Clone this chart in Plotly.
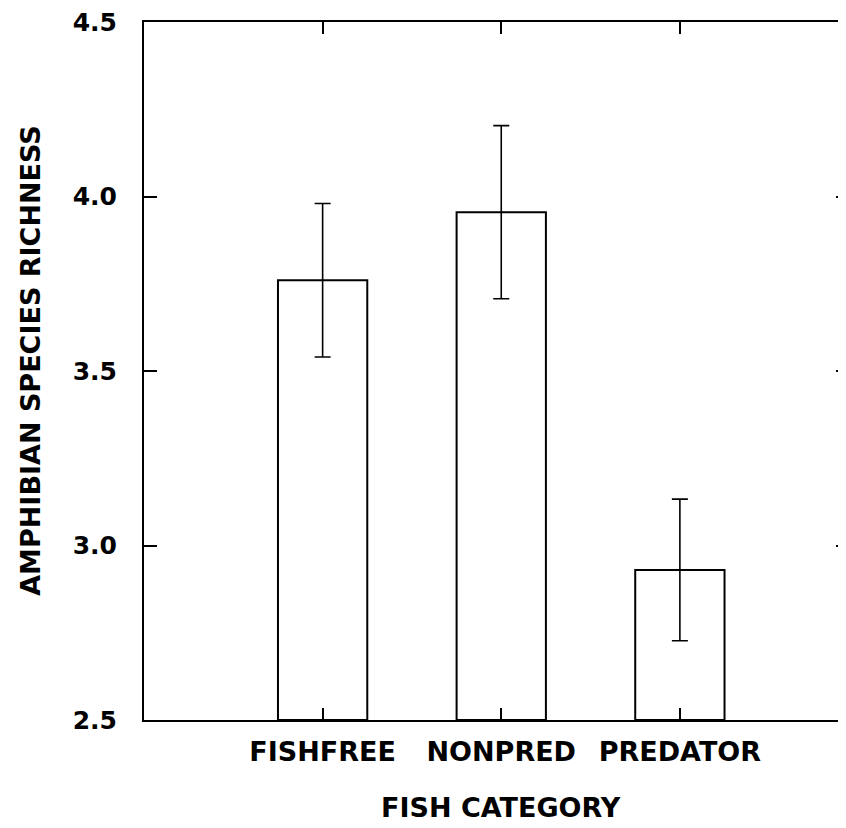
import plotly.graph_objects as go

categories = ["FISHFREE", "NONPRED", "PREDATOR"]
positions = [1, 2, 3]
richness = [3.76, 3.955, 2.93]
err = [0.22, 0.248, 0.203]
y_ticks = [2.5, 3.0, 3.5, 4.0, 4.5]
y_ticktext = ["2.5", "3.0", "3.5", "4.0", "4.5"]

FONT = "DejaVu Sans"

fig = go.Figure()
fig.add_trace(go.Bar(
    x=positions, y=[v - 2.5 for v in richness], base=2.5, width=0.5,
    marker=dict(color="white", line=dict(color="black", width=2)),
    error_y=dict(type="data", array=err, visible=True, color="black",
                 thickness=1.6, width=8),
    showlegend=False, hoverinfo="skip",
))
# same bars referenced on the right-hand axis (transparent) so its ticks render
fig.add_trace(go.Bar(
    x=positions, y=[v - 2.5 for v in richness], base=2.5, width=0.5,
    marker=dict(color="rgba(0,0,0,0)", line=dict(width=0)),
    yaxis="y2", showlegend=False, hoverinfo="skip",
))

fig.update_layout(
    width=838, height=820,
    margin=dict(l=136, r=0, t=12, b=108),
    barmode="overlay",
    paper_bgcolor="white", plot_bgcolor="white",
    font=dict(family=FONT, color="black"),
    xaxis=dict(
        range=[0, 3.93], tickvals=positions, ticktext=categories,
        ticks="inside", ticklen=12, tickwidth=2, tickcolor="black",
        showline=True, linecolor="black", linewidth=2, mirror="ticks",
        showgrid=False, zeroline=False,
        tickfont=dict(family=FONT, size=27, color="black", weight="bold"),
        ticklabelstandoff=7, ticklabeloverflow="allow",
    ),
    yaxis=dict(
        range=[2.5, 4.5], tickvals=y_ticks, ticktext=y_ticktext,
        ticks="inside", ticklen=13, tickwidth=2, tickcolor="black",
        showline=True, linecolor="black", linewidth=2, mirror=False,
        showgrid=False, zeroline=False,
        tickfont=dict(family=FONT, size=25, color="black", weight="bold"),
        ticklabelstandoff=20, ticklabeloverflow="allow",
    ),
    yaxis2=dict(
        range=[2.5, 4.5], tickvals=y_ticks, overlaying="y", side="right",
        anchor="x", ticks="inside", ticklen=10, tickwidth=2, tickcolor="black",
        showline=False, showgrid=False, zeroline=False, showticklabels=False,
    ),
    annotations=[
        dict(text="<b>AMPHIBIAN SPECIES RICHNESS</b>", xref="paper", yref="paper",
             x=-0.161, y=0.516, textangle=-90, showarrow=False,
             xanchor="center", yanchor="middle",
             font=dict(family=FONT, size=27, color="black")),
        dict(text="<b>FISH CATEGORY</b>", xref="x", yref="paper",
             x=2, y=-0.126, showarrow=False, xanchor="center", yanchor="middle",
             font=dict(family=FONT, size=27, color="black")),
    ],
)

fig.write_html("out.html")
